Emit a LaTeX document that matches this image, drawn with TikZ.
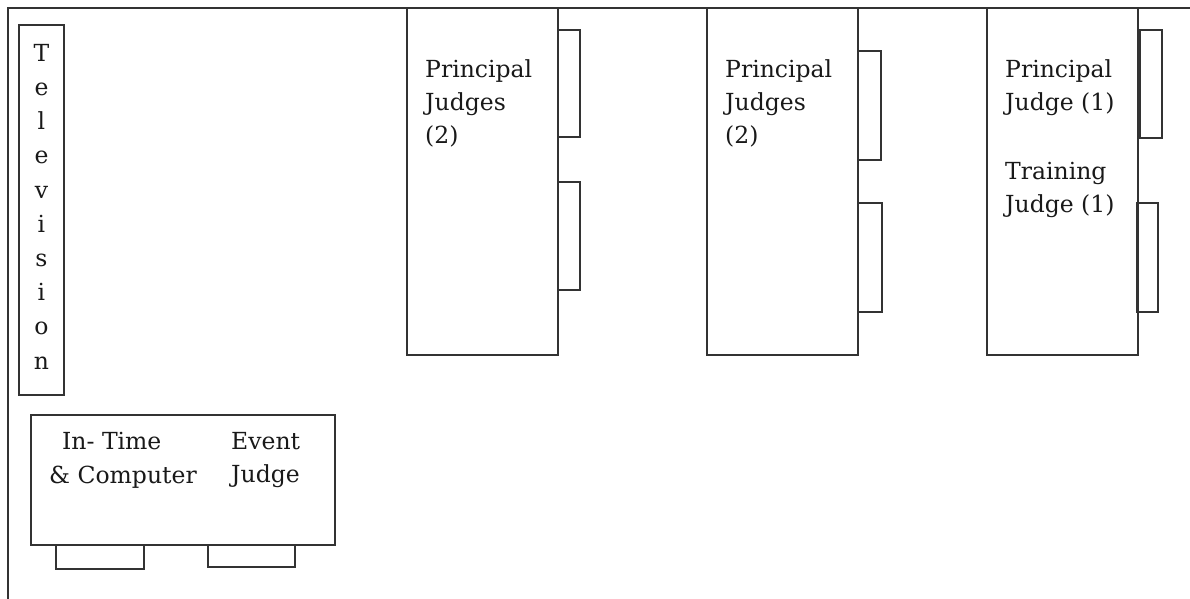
\documentclass[tikz,border=0pt]{standalone}
\usepackage{fontspec}
\setmainfont{DejaVu Serif}
\begin{document}
\begin{tikzpicture}[x=1pt,y=-1pt,
  box/.style={draw=black!80, line width=1.3pt},
  lbl/.style={inner sep=0pt, anchor=north west, align=left,
    font=\fontsize{23.5}{33}\selectfont, text=black!90}]
\useasboundingbox (0,0) rectangle (1190,599);
% outer frame
\draw[box] (8,599) -- (8,8) -- (1190,8);
% television
\draw[box] (19,25) rectangle (64,395);
\node[lbl, anchor=north, align=center, font=\fontsize{23.5}{34.2}\selectfont] (tv) at (41.5,44)
  {T\\e\\l\\e\\v\\i\\s\\i\\o\\n};
% table 1
\draw[box] (558,30) rectangle (580,137);
\draw[box] (558,182) rectangle (580,290);
\draw[box] (407,8) rectangle (558,355);
\node[lbl] (p1) at (425,59.5) {Principal\\Judges\\(2)};
% table 2
\draw[box] (858,51) rectangle (881,160);
\draw[box] (858,203) rectangle (882,312);
\draw[box] (707,8) rectangle (858,355);
\node[lbl] (p2) at (725,59.5) {Principal\\Judges\\(2)};
% table 3
\draw[box] (1140,30) rectangle (1162,138);
\draw[box] (1137,203) rectangle (1158,312);
\draw[box] (987,8) rectangle (1138,355);
\node[lbl] (p3) at (1005,59.5) {Principal\\Judge (1)};
\node[lbl] (t3) at (1005,162) {Training\\Judge (1)};
% bottom table
\draw[box] (56,545) rectangle (144,569);
\draw[box] (208,545) rectangle (295,567);
\draw[box] (31,415) rectangle (335,545);
\node[lbl] (it) at (62,432) {In- Time};
\node[lbl] (cp) at (49,465.5) {\& Computer};
\node[lbl] (ej) at (231,432) {Event\\Judge};
\end{tikzpicture}
\end{document}
